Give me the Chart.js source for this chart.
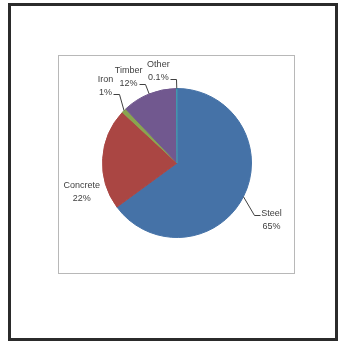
<!DOCTYPE html>
<html>
<head>
<meta charset="utf-8">
<script src="https://cdn.jsdelivr.net/npm/chart.js@4"></script>
<style>
  html, body { margin: 0; padding: 0; background: #fff; }
  body { width: 338px; height: 341px; position: relative; overflow: hidden; }
  .frame { position: absolute; left: 8px; top: 3px; width: 330px; height: 338px; box-sizing: border-box; border: 3px solid #2b2b2b; }
  .plot { position: absolute; left: 58px; top: 55px; width: 237px; height: 219px; box-sizing: border-box; border: 1px solid #b8b8b8; }
  canvas { display: block; }
</style>
</head>
<body>
<div class="frame"></div>
<div class="plot"><canvas id="pie" width="235" height="217"></canvas></div>
<script>
const materials = ['Steel', 'Concrete', 'Iron', 'Timber', 'Other'];
const shares = [65, 22, 1, 12, 0.1];
const shareLabels = ['65%', '22%', '1%', '12%', '0.1%'];
const sliceColors = ['#4572A7', '#AA4643', '#89A54E', '#71588F', '#4198AF'];

// label block centres, relative to the pie centre in radius units
const labelSpots = [[1.27, 0.76], [-1.28, 0.39], [-0.96, -1.03], [-0.65, -1.16], [-0.25, -1.23]];
const withLeader = [true, false, true, true, true];

const pieLabels = {
  id: 'pieLabels',
  afterDatasetsDraw(chart) {
    const ctx = chart.ctx;
    const meta = chart.getDatasetMeta(0);
    ctx.save();
    ctx.font = '9px "Liberation Sans", Arial, sans-serif';
    ctx.fillStyle = '#404040';
    ctx.textAlign = 'center';
    ctx.textBaseline = 'middle';
    ctx.strokeStyle = '#404040';
    ctx.lineWidth = 1;
    meta.data.forEach((arc, i) => {
      const r = arc.outerRadius;
      const cx = arc.x, cy = arc.y;
      const lx = cx + labelSpots[i][0] * r;
      const ly = cy + labelSpots[i][1] * r;
      const y1 = ly - 6.5, y2 = ly + 6.5;
      ctx.fillText(materials[i], lx, y1);
      ctx.fillText(shareLabels[i], lx, y2);
      if (!withLeader[i]) return;
      const mid = (arc.startAngle + arc.endAngle) / 2;
      const ex = cx + Math.cos(mid) * r;
      const ey = cy + Math.sin(mid) * r;
      let sx, sy, kx;
      if (lx > cx) {
        const w = ctx.measureText(materials[i]).width;
        sx = lx - w / 2 - 1; sy = y1 + 2; kx = sx - 6;
      } else {
        const w = ctx.measureText(shareLabels[i]).width;
        sx = lx + w / 2 + 1; sy = y2 + 1; kx = sx + 6;
      }
      ctx.beginPath();
      ctx.moveTo(Math.round(sx) + 0.5, Math.round(sy) + 0.5);
      ctx.lineTo(Math.round(kx) + 0.5, Math.round(sy) + 0.5);
      ctx.lineTo(ex, ey);
      ctx.stroke();
    });
    ctx.restore();
  }
};

new Chart(document.getElementById('pie').getContext('2d'), {
  type: 'pie',
  data: {
    labels: materials,
    datasets: [{ data: shares, backgroundColor: sliceColors, borderColor: sliceColors, borderWidth: 1 }]
  },
  options: {
    responsive: false,
    animation: false,
    layout: { padding: { left: 43, right: 42, top: 32, bottom: 35 } },
    plugins: { legend: { display: false }, tooltip: { enabled: false } }
  },
  plugins: [pieLabels]
});
</script>
</body>
</html>
